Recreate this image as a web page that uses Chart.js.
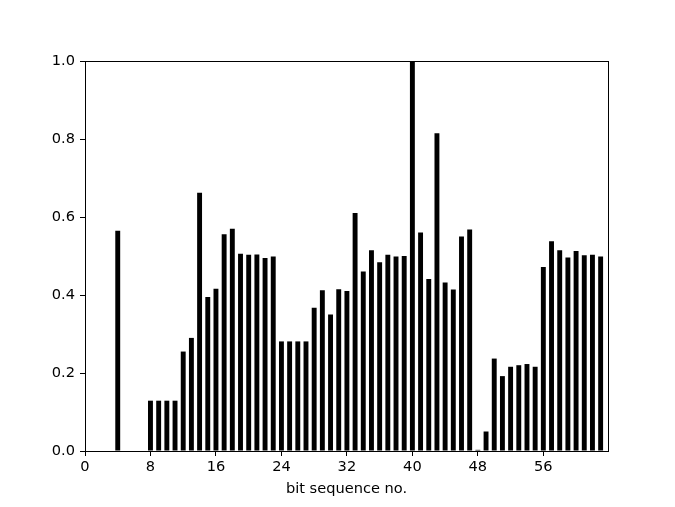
<!DOCTYPE html>
<html>
<head>
<meta charset="utf-8">
<script src="https://cdn.jsdelivr.net/npm/chart.js@4/dist/chart.umd.min.js"></script>
<style>
  html, body { margin: 0; padding: 0; background: #fff; }
  #wrap { width: 675px; height: 507px; }
</style>
</head>
<body>
<div id="wrap"><canvas id="grafico"></canvas></div>
<script>
// posição de cada bit (0..63) e valor
const bitNo = Array.from({ length: 64 }, (_, i) => i);
const valores = [
  0, 0, 0, 0, 0.565, 0, 0, 0,
  0.129, 0.129, 0.129, 0.129, 0.255, 0.29, 0.662, 0.395,
  0.416, 0.556, 0.570, 0.506, 0.503, 0.504, 0.495, 0.499,
  0.281, 0.281, 0.281, 0.281, 0.367, 0.412, 0.350, 0.415,
  0.410, 0.610, 0.460, 0.515, 0.484, 0.503, 0.499, 0.500,
  1.000, 0.560, 0.441, 0.815, 0.432, 0.414, 0.550, 0.568,
  0.003, 0.050, 0.237, 0.192, 0.216, 0.220, 0.223, 0.216,
  0.472, 0.538, 0.515, 0.496, 0.513, 0.502, 0.503, 0.499
];
const ticksX = [0, 8, 16, 24, 32, 40, 48, 56];
const ticksY = [0, 0.2, 0.4, 0.6, 0.8, 1.0];

// moldura completa em volta da área do gráfico
const moldura = {
  id: 'moldura',
  afterDraw(chart) {
    const a = chart.chartArea, ctx = chart.ctx;
    ctx.save();
    ctx.strokeStyle = '#000';
    ctx.lineWidth = 1;
    ctx.strokeRect(Math.round(a.left) + 0.5, Math.round(a.top) + 0.5,
      Math.round(a.right - a.left), Math.round(a.bottom - a.top));
    ctx.restore();
  }
};

const fonte = { family: 'DejaVu Sans', size: 14.6 };

const config = {
  type: 'bar',
  data: {
    datasets: [{
      label: 'bits',
      data: bitNo.map((b, i) => ({ x: b, y: valores[i] })),
      backgroundColor: '#000',
      borderWidth: 0,
      barPercentage: 0.6,
      categoryPercentage: 1.0
    }]
  },
  options: {
    responsive: true,
    maintainAspectRatio: false,
    animation: false,
    layout: { padding: { left: 0, right: 67, top: 61, bottom: 9 } },
    plugins: { legend: { display: false }, tooltip: { enabled: false } },
    scales: {
      x: {
        type: 'linear',
        min: 0,
        max: 63.9,
        offset: false,
        afterBuildTicks: s => { s.ticks = ticksX.map(v => ({ value: v })); },
        afterFit: s => { s.height = 47; },
        grid: { drawOnChartArea: false, offset: false, tickLength: 5, tickColor: '#000' },
        border: { display: false },
        ticks: { color: '#000', font: fonte, padding: 2, maxRotation: 0 },
        title: { display: true, text: 'bit sequence no.', color: '#000', font: fonte, padding: { top: 2, bottom: 0 } }
      },
      y: {
        min: 0,
        max: 1,
        afterBuildTicks: s => { s.ticks = ticksY.map(v => ({ value: v })); },
        afterFit: s => { s.width = 85; },
        grid: { drawOnChartArea: false, tickLength: 5, tickColor: '#000' },
        border: { display: false },
        ticks: { color: '#000', font: fonte, padding: 5, callback: v => v.toFixed(1) }
      }
    }
  },
  plugins: [moldura]
};

window.onload = function() {
  new Chart(document.getElementById('grafico'), config);
};
</script>
</body>
</html>
